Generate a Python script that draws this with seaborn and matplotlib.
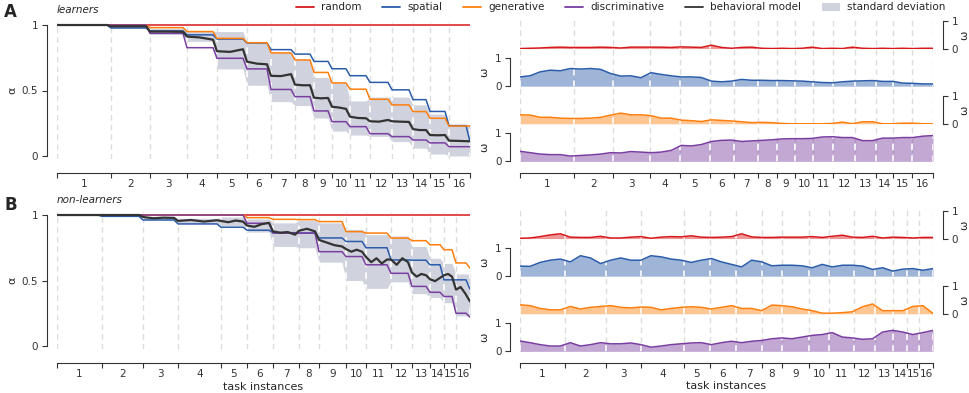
import numpy as np
import matplotlib
matplotlib.use('Agg')
import matplotlib.pyplot as plt
from matplotlib.lines import Line2D
from matplotlib.patches import Patch
import seaborn as sns

sns.set_style('ticks')
plt.rcParams['font.family'] = ['DejaVu Sans']
plt.rcParams['axes.edgecolor'] = '#333333'
plt.rcParams['xtick.color'] = '#333333'
plt.rcParams['ytick.color'] = '#333333'

# ---- data ----
task_labels = [str(i) for i in range(1, 17)]
# trials per task
len_A = [54, 39, 37, 30, 30, 24, 24, 19, 18, 18, 20, 22, 21, 17, 19, 21]
len_B = [45, 41, 35, 43, 26, 26, 26, 20, 27, 20, 25, 21, 18, 14, 12, 14]

# alpha per task (left panels), *_end = value at the final trial
random_A = [1.0, 1.0, 1.0, 1.0, 1.0, 1.0, 1.0, 1.0, 1.0, 1.0, 1.0, 1.0, 1.0, 1.0, 1.0, 1.0]
spatial_A = [1.0, 0.977, 0.955, 0.925, 0.893, 0.863, 0.812, 0.778, 0.722, 0.666, 0.613, 0.562, 0.505, 0.43, 0.34, 0.232]
spatial_A_end = 0.11
generative_A = [1.0, 1.0, 0.98, 0.95, 0.898, 0.865, 0.787, 0.733, 0.638, 0.558, 0.51, 0.433, 0.39, 0.339, 0.288, 0.229]
generative_A_end = 0.229
discrim_A = [1.0, 1.0, 0.936, 0.827, 0.746, 0.665, 0.508, 0.453, 0.344, 0.262, 0.224, 0.17, 0.148, 0.122, 0.10, 0.071]
discrim_A_end = 0.071
behav_A = [[1.0, 1.0, 1.0], [0.99, 0.99, 0.99], [0.95, 0.95, 0.948], [0.912, 0.905, 0.888],
           [0.80, 0.795, 0.815], [0.72, 0.705, 0.70], [0.612, 0.61, 0.625], [0.545, 0.54, 0.54],
           [0.445, 0.44, 0.443], [0.376, 0.37, 0.36], [0.30, 0.29, 0.288], [0.265, 0.262, 0.275],
           [0.265, 0.262, 0.26], [0.205, 0.198, 0.198], [0.16, 0.158, 0.16], [0.117, 0.115, 0.112]]
std_up_A = [1.0, 1.0, 0.975, 0.95, 0.95, 0.864, 0.79, 0.74, 0.60, 0.56, 0.42, 0.45, 0.45, 0.39, 0.32, 0.24]
std_lo_A = [1.0, 0.985, 0.93, 0.875, 0.665, 0.54, 0.415, 0.385, 0.29, 0.19, 0.16, 0.15, 0.11, 0.06, 0.015, 0.0]

random_B = [1.0, 1.0, 1.0, 1.0, 1.0, 1.0, 1.0, 1.0, 1.0, 1.0, 1.0, 1.0, 1.0, 1.0, 1.0, 1.0]
spatial_B = [1.0, 0.99, 0.962, 0.932, 0.907, 0.884, 0.865, 0.862, 0.825, 0.798, 0.75, 0.657, 0.655, 0.62, 0.505, 0.505]
spatial_B_end = 0.433
generative_B = [1.0, 1.0, 1.0, 1.0, 1.0, 0.98, 0.967, 0.965, 0.95, 0.873, 0.862, 0.824, 0.804, 0.773, 0.735, 0.634]
generative_B_end = 0.595
discrim_B = [1.0, 1.0, 1.0, 1.0, 1.0, 0.937, 0.862, 0.862, 0.72, 0.683, 0.62, 0.555, 0.455, 0.41, 0.378, 0.25]
discrim_B_end = 0.22
behav_B = [[1.0, 1.0, 1.0], [1.0, 1.0, 1.0], [0.985, 0.975, 0.98, 0.978], [0.955, 0.962, 0.95, 0.96],
           [0.955, 0.945, 0.958, 0.95], [0.92, 0.91, 0.93, 0.94], [0.875, 0.865, 0.87, 0.85],
           [0.88, 0.895, 0.875], [0.81, 0.79, 0.77, 0.76], [0.74, 0.72, 0.735, 0.72],
           [0.68, 0.64, 0.67, 0.63, 0.66], [0.66, 0.62, 0.67, 0.64], [0.56, 0.53, 0.55, 0.54],
           [0.51, 0.495, 0.52], [0.54, 0.55, 0.53], [0.43, 0.45, 0.40, 0.34]]
std_up_B = [1.0, 1.0, 0.99, 0.975, 0.985, 0.97, 0.94, 0.96, 0.94, 0.89, 0.85, 0.84, 0.76, 0.67, 0.63, 0.55]
std_lo_B = [1.0, 1.0, 0.965, 0.94, 0.92, 0.87, 0.76, 0.75, 0.64, 0.50, 0.44, 0.49, 0.40, 0.37, 0.33, 0.23]

# omega (right panels), 42 samples evenly over the trials
omega_red_A = [0.0, 0.01, 0.02, 0.04, 0.05, 0.04, 0.04, 0.04, 0.05, 0.04, 0.02, 0.05, 0.05, 0.05,
               0.05, 0.04, 0.06, 0.05, 0.04, 0.12, 0.04, 0.01, 0.04, 0.05, 0.01, 0.0, 0.01, 0.0,
               0.01, 0.05, 0.0, 0.01, 0.0, 0.05, 0.01, 0.0, 0.01, 0.0, 0.01, 0.0, 0.01, 0.01]
omega_blue_A = [0.33, 0.37, 0.51, 0.57, 0.55, 0.63, 0.61, 0.63, 0.6, 0.45, 0.36, 0.37, 0.30, 0.48,
                0.42, 0.37, 0.33, 0.33, 0.31, 0.18, 0.155, 0.18, 0.24, 0.21, 0.21, 0.2, 0.2, 0.19,
                0.18, 0.155, 0.13, 0.12, 0.155, 0.18, 0.19, 0.2, 0.17, 0.17, 0.11, 0.1, 0.08, 0.08]
omega_orange_A = [0.32, 0.31, 0.23, 0.23, 0.2, 0.19, 0.19, 0.2, 0.23, 0.31, 0.38, 0.32, 0.32, 0.29,
                  0.2, 0.2, 0.13, 0.11, 0.08, 0.14, 0.12, 0.1, 0.07, 0.04, 0.05, 0.04, 0.01, 0.0,
                  0.0, 0.0, 0.0, 0.01, 0.06, 0.0, 0.07, 0.07, 0.0, 0.0, 0.02, 0.02, 0.0, 0.0]
omega_purple_A = [0.36, 0.31, 0.26, 0.24, 0.24, 0.19, 0.21, 0.23, 0.26, 0.31, 0.3, 0.35, 0.33, 0.31,
                  0.33, 0.39, 0.57, 0.55, 0.6, 0.71, 0.75, 0.76, 0.71, 0.73, 0.75, 0.77, 0.8, 0.81,
                  0.81, 0.82, 0.87, 0.88, 0.85, 0.85, 0.74, 0.74, 0.83, 0.83, 0.85, 0.85, 0.9, 0.92]
omega_red_B = [0.01, 0.02, 0.07, 0.13, 0.17, 0.05, 0.04, 0.04, 0.08, 0.02, 0.02, 0.05, 0.07, 0.01,
               0.05, 0.07, 0.06, 0.1, 0.05, 0.04, 0.05, 0.07, 0.17, 0.06, 0.04, 0.04, 0.05, 0.05,
               0.05, 0.07, 0.04, 0.08, 0.12, 0.05, 0.04, 0.08, 0.02, 0.05, 0.04, 0.02, 0.04, 0.04]
omega_blue_B = [0.36, 0.35, 0.49, 0.57, 0.61, 0.51, 0.73, 0.65, 0.45, 0.57, 0.65, 0.57, 0.57, 0.73,
                0.69, 0.61, 0.57, 0.49, 0.57, 0.63, 0.51, 0.42, 0.33, 0.57, 0.51, 0.37, 0.39, 0.39,
                0.37, 0.3, 0.42, 0.33, 0.39, 0.39, 0.36, 0.24, 0.3, 0.18, 0.25, 0.27, 0.21, 0.27]
omega_orange_B = [0.32, 0.29, 0.19, 0.14, 0.14, 0.26, 0.17, 0.23, 0.26, 0.29, 0.23, 0.21, 0.24, 0.23,
                  0.14, 0.19, 0.23, 0.25, 0.23, 0.17, 0.23, 0.29, 0.19, 0.19, 0.11, 0.31, 0.29, 0.25,
                  0.17, 0.11, 0.02, 0.02, 0.04, 0.07, 0.25, 0.35, 0.11, 0.11, 0.11, 0.26, 0.29, 0.01]
omega_purple_B = [0.37, 0.31, 0.24, 0.19, 0.19, 0.31, 0.19, 0.24, 0.31, 0.27, 0.27, 0.3, 0.24, 0.15,
                  0.19, 0.24, 0.27, 0.3, 0.31, 0.24, 0.31, 0.36, 0.31, 0.36, 0.39, 0.45, 0.48, 0.45,
                  0.51, 0.57, 0.6, 0.67, 0.51, 0.48, 0.43, 0.45, 0.69, 0.75, 0.69, 0.6, 0.67, 0.75]

colors = {'random': '#d7191c', 'spatial': '#2a5caa', 'generative': '#ff7f0e',
          'discriminative': '#7a3ea1', 'behavioral model': '#333333', 'standard deviation': '#d0d3de'}
grid_c = '#dcdcdc'
dash = (4, 3)

W, H = 970, 393
fig = plt.figure(figsize=(W / 100, H / 100), dpi=100)


def box(x0, y_top, w, h):
    return [x0 / W, 1 - (y_top + h) / H, w / W, h / H]


def bounds(lengths):
    return np.concatenate([[0], np.cumsum(lengths)])


def step_xy(lengths, levels, end, gap=4):
    b = bounds(lengths)
    xs, ys = [], []
    for i, v in enumerate(levels):
        xs += [b[i], b[i + 1] - gap]
        ys += [v, v]
    xs.append(b[-1])
    ys.append(end)
    return np.array(xs, float), np.array(ys, float)


def spread_xy(lengths, per_task, gap=4):
    b = bounds(lengths)
    xs, ys = [], []
    for i, vals in enumerate(per_task):
        stop = b[i + 1] - (gap if i < len(per_task) - 1 else 0)
        xs += list(np.linspace(b[i], stop, len(vals)))
        ys += list(vals)
    return np.array(xs, float), np.array(ys, float)


def task_axis(ax, lengths, offset):
    b = bounds(lengths)
    ax.set_xlim(0, b[-1])
    ax.set_xticks(b)
    ax.set_xticklabels([])
    ax.set_xticks((b[:-1] + b[1:]) / 2, minor=True)
    ax.set_xticklabels(task_labels, minor=True)
    ax.tick_params(axis='x', which='major', length=3.5, width=0.8)
    ax.tick_params(axis='x', which='minor', length=0, labelsize=7.5, pad=4)
    ax.spines['bottom'].set_position(('outward', offset))
    ax.spines['bottom'].set_bounds(0, b[-1])


def white_dashes(ax, lengths, coll):
    path = coll.get_paths()[0]
    for x in bounds(lengths):
        ln = ax.axvline(x, color='white', lw=1.2, dashes=dash, zorder=1.5)
        ln.set_clip_path(path, ax.transData)


def left_panel(top, lengths, rnd, spa, spa_end, gen, gen_end, dis, dis_end, beh, up, lo, last):
    ax = fig.add_axes(box(57, top - 2.6, 413, 136.2))
    ax.set_facecolor('none')
    b = bounds(lengths)
    for x in b:
        ax.axvline(x, color=grid_c, lw=1, dashes=dash, zorder=0)
    xs, yu = step_xy(lengths, up, up[-1])
    _, yl = step_xy(lengths, lo, lo[-1])
    band = ax.fill_between(xs, yl, yu, color=colors['standard deviation'], lw=0, zorder=1)
    white_dashes(ax, lengths, band)
    for name, lev, end in [('random', rnd, rnd[-1]), ('spatial', spa, spa_end),
                           ('generative', gen, gen_end), ('discriminative', dis, dis_end)]:
        x, y = step_xy(lengths, lev, end)
        sns.lineplot(x=x, y=y, ax=ax, color=colors[name], lw=1.1, sort=False,
                     estimator=None, zorder=3)
    x, y = spread_xy(lengths, beh)
    sns.lineplot(x=x, y=y, ax=ax, color=colors['behavioral model'], lw=1.6, sort=False,
                 estimator=None, zorder=4)
    ax.set_ylim(-0.02, 1.02)
    ax.set_yticks([0, 0.5, 1])
    ax.set_yticklabels(['0', '0.5', '1'])
    ax.tick_params(axis='y', length=3.5, width=0.8, labelsize=7.5, pad=3)
    sns.despine(ax=ax)
    ax.spines['left'].set_position(('outward', 7.2))
    ax.spines['left'].set_bounds(0, 1)
    task_axis(ax, lengths, 10.5)
    ax.set_ylabel('α', fontsize=8, labelpad=3)
    if last:
        ax.set_xlabel('task instances', fontsize=8, labelpad=2)
    return ax


def right_panel(y0, lengths, series, last):
    bg = fig.add_axes(box(520, y0 - 29, 413, 143))
    for x in bounds(lengths):
        bg.axvline(x, color=grid_c, lw=1, dashes=dash, zorder=0)
    bg.set_ylim(0, 1)
    bg.set_yticks([])
    sns.despine(ax=bg, left=True)
    task_axis(bg, lengths, 8)
    if last:
        bg.set_xlabel('task instances', fontsize=8, labelpad=2)
    xs = np.linspace(0, bounds(lengths)[-1], 42)
    for k, (name, vals) in enumerate(series):
        base = y0 + k * 37.6
        ax = fig.add_axes(box(520, base - 28.0 + 0.56, 413, 28.56))
        ax.set_facecolor('none')
        c = colors[name]
        fill = ax.fill_between(xs, 0, vals, color=c, alpha=0.45, lw=0, zorder=1)
        white_dashes(ax, lengths, fill)
        sns.lineplot(x=xs, y=vals, ax=ax, color=c, lw=1.1, sort=False, estimator=None, zorder=3)
        ax.set_xlim(0, bounds(lengths)[-1])
        ax.set_ylim(-0.02, 1.0)
        ax.set_xticks([])
        ax.set_yticks([0, 1])
        ax.set_yticklabels(['0', '1'])
        ax.tick_params(axis='y', length=3.5, width=0.8, labelsize=7.5, pad=2.5)
        right = k % 2 == 0
        sns.despine(ax=ax, bottom=True, left=right, right=not right)
        side = 'right' if right else 'left'
        if right:
            ax.yaxis.tick_right()
            ax.yaxis.set_label_position('right')
        ax.spines[side].set_position(('outward', 7.2))
        ax.spines[side].set_bounds(0, 1)
        ax.set_ylabel('ω', fontsize=8, labelpad=1 if right else 4)


left_panel(25, len_A, random_A, spatial_A, spatial_A_end, generative_A, generative_A_end,
           discrim_A, discrim_A_end, behav_A, std_up_A, std_lo_A, False)
left_panel(215, len_B, random_B, spatial_B, spatial_B_end, generative_B, generative_B_end,
           discrim_B, discrim_B_end, behav_B, std_up_B, std_lo_B, True)

right_panel(48, len_A, [('random', omega_red_A), ('spatial', omega_blue_A),
                        ('generative', omega_orange_A), ('discriminative', omega_purple_A)], False)
right_panel(238, len_B, [('random', omega_red_B), ('spatial', omega_blue_B),
                         ('generative', omega_orange_B), ('discriminative', omega_purple_B)], True)

fig.text(4 / W, 1 - 12 / H, 'A', fontsize=12, fontweight='bold', va='center')
fig.text(57 / W, 1 - 10 / H, 'learners', fontsize=7.5, style='italic', va='center')
fig.text(4 / W, 1 - 205 / H, 'B', fontsize=12, fontweight='bold', va='center')
fig.text(57 / W, 1 - 200 / H, 'non-learners', fontsize=7.5, style='italic', va='center')

handles = [Line2D([], [], color=colors[n], lw=1.3) for n in
           ['random', 'spatial', 'generative', 'discriminative', 'behavioral model']]
handles.append(Patch(color=colors['standard deviation'], lw=0))
labels = ['random', 'spatial', 'generative', 'discriminative', 'behavioral model', 'standard deviation']
fig.legend(handles, labels, loc='center left', bbox_to_anchor=(296 / W, 1 - 7.5 / H), ncol=6,
           frameon=False, fontsize=7.5, handlelength=1.7, handletextpad=0.7, columnspacing=2.0,
           borderpad=0, borderaxespad=0)

fig.savefig('out.png', dpi=100)
